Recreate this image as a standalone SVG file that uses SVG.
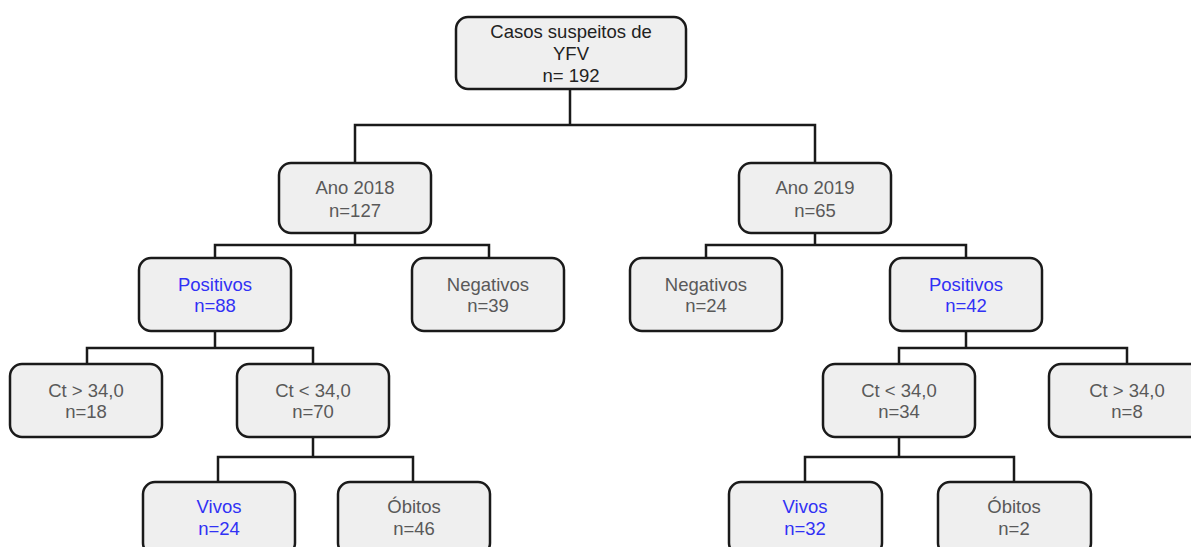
<svg xmlns="http://www.w3.org/2000/svg" width="1191" height="547" viewBox="0 0 1191 547">
<style>
.box{fill:#efefef;stroke:#1a1a1a;stroke-width:2.5}
.t{font-family:"Liberation Sans",Arial,sans-serif;font-size:18.5px;text-anchor:middle;fill:#595959}
.root{fill:#222}
.blue{fill:#3131f5}
.c{fill:none;stroke:#1a1a1a;stroke-width:2.5;stroke-linejoin:miter}
</style>
<rect width="1191" height="547" fill="#fff"/>
<g id="connectors">
<path class="c" d="M570 89V125M355 162V125H815V162"/>
<path class="c" d="M355 233V245M215 258V245H489V258"/>
<path class="c" d="M815 233V245M706 258V245H966V258"/>
<path class="c" d="M215 331V348M87 364V348H313V364"/>
<path class="c" d="M966 331V348M899 364V348H1127V364"/>
<path class="c" d="M313 437V457M218 482V457H413V482"/>
<path class="c" d="M899 437V457M805 482V457H1014V482"/>
</g>
<g id="root"><rect class="box" x="456" y="17" width="230" height="72" rx="12"/>
<text class="t root" x="571" y="38">Casos suspeitos de</text><text class="t root" x="571" y="60">YFV</text><text class="t root" x="571" y="82">n= 192</text></g>
<g id="ano2018"><rect class="box" x="279" y="163" width="152" height="70" rx="12"/>
<text class="t" x="355" y="194">Ano 2018</text><text class="t" x="355" y="217">n=127</text></g>
<g id="ano2019"><rect class="box" x="739" y="163" width="152" height="70" rx="12"/>
<text class="t" x="815" y="194">Ano 2019</text><text class="t" x="815" y="217">n=65</text></g>
<g id="pos88"><rect class="box" x="139" y="258" width="152" height="73" rx="12"/>
<text class="t blue" x="215" y="291">Positivos</text><text class="t blue" x="215" y="312">n=88</text></g>
<g id="neg39"><rect class="box" x="412" y="258" width="152" height="73" rx="12"/>
<text class="t" x="488" y="291">Negativos</text><text class="t" x="488" y="312">n=39</text></g>
<g id="neg24"><rect class="box" x="630" y="258" width="152" height="73" rx="12"/>
<text class="t" x="706" y="291">Negativos</text><text class="t" x="706" y="312">n=24</text></g>
<g id="pos42"><rect class="box" x="890" y="258" width="152" height="73" rx="12"/>
<text class="t blue" x="966" y="291">Positivos</text><text class="t blue" x="966" y="312">n=42</text></g>
<g id="ctgt18"><rect class="box" x="10" y="364" width="152" height="73" rx="12"/>
<text class="t" x="86" y="397">Ct &gt; 34,0</text><text class="t" x="86" y="418">n=18</text></g>
<g id="ctlt70"><rect class="box" x="237" y="364" width="152" height="73" rx="12"/>
<text class="t" x="313" y="397">Ct &lt; 34,0</text><text class="t" x="313" y="418">n=70</text></g>
<g id="ctlt34"><rect class="box" x="823" y="364" width="152" height="73" rx="12"/>
<text class="t" x="899" y="397">Ct &lt; 34,0</text><text class="t" x="899" y="418">n=34</text></g>
<g id="ctgt8"><rect class="box" x="1049" y="364" width="156" height="73" rx="12"/>
<text class="t" x="1127" y="397">Ct &gt; 34,0</text><text class="t" x="1127" y="418">n=8</text></g>
<g id="vivos24"><rect class="box" x="143" y="482" width="152" height="73" rx="12"/>
<text class="t blue" x="219" y="513">Vivos</text><text class="t blue" x="219" y="535">n=24</text></g>
<g id="obitos46"><rect class="box" x="338" y="482" width="152" height="73" rx="12"/>
<text class="t" x="414" y="513">Óbitos</text><text class="t" x="414" y="535">n=46</text></g>
<g id="vivos32"><rect class="box" x="729" y="482" width="153" height="73" rx="12"/>
<text class="t blue" x="805" y="513">Vivos</text><text class="t blue" x="805" y="535">n=32</text></g>
<g id="obitos2"><rect class="box" x="938" y="482" width="153" height="73" rx="12"/>
<text class="t" x="1014" y="513">Óbitos</text><text class="t" x="1014" y="535">n=2</text></g>
</svg>
